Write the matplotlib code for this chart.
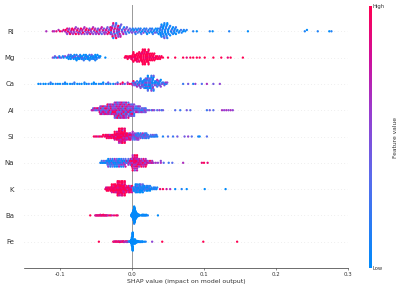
import numpy as np
import matplotlib
matplotlib.use("Agg")
import matplotlib.pyplot as plt
from matplotlib.colors import LinearSegmentedColormap

# Feature names (top to bottom)
features = ["RI", "Mg", "Ca", "Al", "Si", "Na", "K", "Ba", "Fe"]

# SHAP values in thousandths; feature value level 0 (low) .. 9 (high)
RI_shap = [-119, -110, -108, -105, -102, -100, -97, -95, -93,
           -92, -91, -90, -90, -89, -88, -87, -87, -86, -85, -84, -84,
           -83, -82, -81, -81, -80, -79, -78, -78, -77, -76, -75, -75,
           -74, -73, -72, -72, -71, -70, -69, -69, -68, -67, -66, -66,
           -65, -64, -63, -63, -62, -61, -60, -60, -59, -58, -57, -57,
           -56, -55, -54, -54, -53, -52, -51, -51, -50, -49, -48, -48,
           -47, -46, -45, -45, -44, -43, -42, -42, -41, -40, -39, -39,
           -38, -37, -36, -36,
           -35, -34, -34, -33, -32, -32, -31, -30, -30,
           -29, -29, -29, -28, -28, -28, -27, -27, -27, -26, -26, -26, -25, -25, -25, -24, -24, -24,
           -23, -23, -23, -22, -22, -22, -21, -21, -21, -20, -20, -20, -19, -19, -19, -18, -18, -18,
           -17, -17, -17, -16, -16, -16,
           -15, -14, -14, -13, -12, -12, -11, -10, -10, -9, -8, -8, -7, -6, -5, -4, -3,
           -2, -1, 0, 1, 2, 3, 4, 5, 5, 6, 7, 8, 9, 10, 11, 12, 12, 13, 14, 15, 16, 17, 18, 19, 20, 20,
           21, 22, 23, 24, 25, 26, 27, 28, 28, 29, 30, 31, 32, 33, 34, 35, 35, 36, 37, 38,
           39, 39, 39, 40, 40, 40, 41, 41, 41, 42, 42, 42, 43, 43, 43, 44, 44, 44, 45, 45, 45, 46, 46, 46,
           47, 47, 47, 48, 48, 48, 49, 49, 49, 50, 50, 50,
           51, 51, 52, 53, 53, 54, 55, 55, 56, 57, 57, 58, 59, 59, 60, 61, 61, 62,
           63, 65, 66, 68, 69, 71, 72, 74, 76,
           85, 90, 108, 112, 135, 161, 240, 243, 258, 274, 277]
RI_feat = [6, 7, 6, 8, 6, 9, 7, 8, 6,
           9, 6, 8, 5, 9, 5, 7, 6, 9, 5, 8, 6,
           9, 6, 5, 8, 6, 7, 9, 5, 6, 9, 5, 6,
           8, 9, 5, 4, 9, 6, 5, 7, 9, 6, 5, 6,
           5, 9, 6, 8, 4, 5, 9, 6, 4, 8, 5, 6,
           5, 9, 5, 6, 4, 8, 5, 6, 5, 9, 4, 6,
           4, 7, 5, 8, 4, 6, 3, 7, 5, 8, 5, 4,
           6, 5, 8, 5,
           6, 8, 4, 7, 5, 9, 3, 6, 8,
           5, 9, 2, 7, 4, 8, 6, 3, 9, 5, 1, 8, 7, 4, 6, 9, 2, 5,
           8, 3, 6, 4, 9, 1, 7, 5, 2, 8, 4, 6, 3, 9, 5, 2, 7, 4,
           6, 8, 1, 5, 3, 7,
           4, 6, 2, 5, 3, 7, 1, 4, 6, 2, 5, 3, 4, 2, 5, 1, 3,
           4, 2, 5, 1, 3, 0, 4, 2, 1, 5, 0, 3, 1, 2, 4, 0, 1, 3, 0, 2, 5, 1, 0, 3, 1, 2,
           0, 4, 1, 0, 2, 1, 3, 0, 1, 2, 0, 1, 4, 0, 1, 0, 2, 1, 0, 1,
           1, 0, 2, 0, 1, 0, 3, 1, 0, 0, 2, 1, 0, 1, 0, 2, 0, 1, 0, 4, 1, 0, 1, 0,
           2, 0, 1, 0, 1, 3, 0, 1, 0, 2, 0, 1,
           0, 1, 2, 0, 1, 0, 3, 1, 0, 1, 0, 2, 1, 0, 1, 0, 2, 1,
           0, 1, 0, 2, 1, 0, 1, 0, 1,
           1, 0, 1, 0, 1, 0, 1, 0, 1, 0, 1]

Mg_shap = [-110, -108, -107, -105, -103, -101, -100, -98, -96, -95, -93, -91, -90,
           -89, -88, -88, -87, -86, -85, -85, -84, -83, -82, -82, -81, -80, -79, -79, -78,
           -77, -77, -76, -75, -75, -74, -73, -73, -72, -71, -71, -70, -69, -69, -68, -67, -67, -66,
           -65, -65, -64, -63, -63, -62, -61, -61, -60, -59, -59, -58, -57, -57, -56, -55, -55, -54,
           -53, -53, -52, -51, -51, -50, -50,
           -49, -48, -47, -46, -45, -44, -37,
           -10, -9, -8, -7, -6, -5, -4, -3, -2, -1,
           0, 0, 0, 1, 1, 2, 2, 2, 3, 3, 4, 4, 4, 5, 5, 6, 6, 6, 7, 7, 8, 8, 8, 9, 9, 10, 10, 10, 11, 11,
           12, 12, 12, 12, 13, 13, 13, 13, 14, 14, 14, 14, 15, 15, 15, 15, 16, 16, 16, 16,
           17, 17, 17, 17, 18, 18, 18, 18, 19, 19, 19, 19, 20, 20, 20, 20, 21, 21, 21, 21,
           22, 22, 22, 22, 23, 23, 23, 23, 24, 24, 24, 24,
           25, 25, 26, 26, 27, 27, 28, 28, 29, 29, 30, 30, 31, 31, 32, 33, 33, 34, 35,
           36, 37, 38, 39, 40, 41, 43,
           50, 60, 71, 76, 81, 85, 90, 94, 101, 113, 124, 133, 137, 154]
Mg_feat = [5, 1, 4, 0, 6, 1, 0, 4, 1, 0, 5, 1, 0,
           1, 0, 4, 1, 0, 0, 2, 1, 0, 5, 1, 0, 0, 1, 4, 0,
           1, 0, 0, 2, 1, 0, 4, 0, 1, 0, 0, 1, 5, 0, 1, 0, 2, 0,
           1, 0, 0, 4, 1, 0, 1, 0, 0, 2, 1, 0, 0, 1, 4, 0, 1, 0,
           0, 1, 2, 0, 1, 0, 0,
           1, 0, 2, 0, 1, 0, 0,
           9, 9, 8, 9, 9, 9, 9, 8, 9, 9,
           9, 9, 8, 9, 9, 9, 9, 9, 8, 9, 9, 9, 9, 8, 9, 9, 9, 9, 9, 8, 9, 9, 9, 9, 8, 9, 9, 9, 9, 9,
           9, 9, 9, 8, 9, 9, 9, 9, 9, 8, 9, 9, 9, 9, 9, 9, 8, 9, 9, 9,
           9, 9, 9, 8, 9, 9, 9, 9, 9, 9, 8, 9, 9, 9, 9, 9, 8, 9, 9, 9,
           9, 9, 9, 8, 9, 9, 9, 9, 9, 8, 9, 9,
           9, 9, 8, 9, 9, 9, 9, 9, 8, 9, 9, 9, 9, 9, 8, 9, 9, 9, 9,
           9, 9, 8, 9, 9, 9, 9,
           9, 9, 9, 8, 9, 9, 9, 9, 9, 9, 9, 8, 9, 9]

Ca_shap = [-130, -127, -123, -120, -116, -113, -113, -110, -106, -103,
           -100, -96, -93, -93, -90, -86, -83, -80, -80, -76,
           -73, -70, -66, -66, -63, -60, -56, -53, -53, -50,
           -46, -43, -40, -40, -36, -33, -33, -30, -26, -23,
           -20, -20, -16, -13, -13, -10, -6, -6, -3,
           0, 1, 1, 2, 3, 3, 4, 5, 5, 6, 7, 7, 8, 9, 9,
           10, 10, 10, 11, 11, 12, 12, 12, 13, 13, 14, 14, 14, 15, 15, 16, 16, 16, 17, 17,
           18, 18, 18, 18, 19, 19, 19, 19, 20, 20, 20, 20, 21, 21, 21, 21, 22, 22, 22, 22, 23, 23, 23, 23,
           24, 24, 24, 24,
           25, 25, 25, 25, 26, 26, 26, 26, 27, 27, 27, 27, 28, 28, 28, 28, 29, 29, 29, 29, 30, 30, 30, 30,
           31, 31, 32, 32, 33, 33, 34, 34, 35, 35, 36, 36, 37, 37, 38, 38, 39, 39, 40, 40,
           41, 42, 43, 44, 45, 46, 47, 48, 49,
           71, 78, 85, 88, 97, 104, 113, 122]
Ca_feat = [0, 1, 0, 0, 1, 0, 2, 0, 1, 0,
           0, 1, 0, 1, 0, 0, 1, 0, 2, 0,
           1, 0, 0, 1, 0, 2, 0, 1, 0, 0,
           1, 0, 2, 0, 1, 0, 4, 1, 0, 4,
           7, 2, 8, 5, 9, 3, 8, 6, 9,
           8, 2, 6, 9, 1, 5, 3, 7, 1, 4, 2, 6, 0, 5, 1,
           3, 1, 6, 0, 4, 2, 5, 1, 0, 3, 6, 1, 2, 4, 0, 5, 1, 3, 0, 2,
           1, 4, 0, 2, 5, 1, 0, 3, 1, 6, 0, 2, 4, 1, 0, 5, 2, 1, 3, 0, 1, 4, 0, 2,
           6, 1, 0, 3,
           1, 5, 0, 2, 1, 4, 0, 3, 1, 0, 5, 2, 1, 0, 4, 1, 2, 0, 6, 1, 3, 0, 1, 4,
           2, 0, 5, 1, 3, 0, 4, 1, 2, 6, 0, 1, 3, 5, 0, 2, 4, 1, 5, 0,
           3, 1, 5, 2, 4, 0, 6, 2, 5,
           2, 4, 1, 5, 3, 6, 4, 5]

Al_shap = [-56, -55, -54, -53, -52, -51, -50, -49, -48, -47, -46,
           -45, -45, -45, -44, -44, -43, -43, -43, -42, -42, -41, -41, -41, -40, -40,
           -39, -39, -39, -38, -38, -37, -37, -37, -36, -36,
           -35, -35, -35, -34, -34, -34, -33, -33, -33, -32, -32, -32, -31, -31, -31,
           -30, -30, -30, -29, -29, -29, -28, -28, -28, -27, -27, -27, -26, -26, -26,
           -25, -25, -25, -25, -24, -24, -24, -24, -24, -23, -23, -23, -23, -22, -22, -22, -22, -22,
           -21, -21, -21, -21, -20, -20, -20, -20, -20, -19, -19, -19, -19, -18, -18, -18, -18, -18,
           -17, -17, -17, -17, -16, -16, -16, -16, -16, -15, -15, -15, -15, -14, -14, -14, -14, -14,
           -13, -13, -13, -13, -12, -12, -12, -12, -12, -11, -11, -11, -11, -10, -10, -10, -10, -10,
           -9, -9, -9, -9, -8, -8, -8, -8, -8, -7, -7, -7, -7, -6, -6, -6, -6, -6,
           -5, -5, -5, -5,
           -4, -4, -4, -4, -3, -3, -3, -2, -2, -2, -2, -1, -1, -1,
           0, 0, 0, 0, 1, 1, 1, 2, 2, 2, 2, 3, 3, 3,
           4, 4, 5, 5, 6, 6, 7, 7, 8, 8, 9, 9, 10, 10,
           11, 11, 12, 13, 13, 14, 15, 15, 16, 17, 17, 18, 19, 19, 20,
           22, 24, 27, 29, 31, 35, 38, 41, 43,
           60, 67, 76, 81, 104, 108, 113, 125, 128, 131, 134, 137, 140]
Al_feat = [5, 7, 3, 6, 8, 4, 6, 2, 9, 5, 7,
           6, 3, 8, 5, 7, 2, 9, 4, 6, 8, 5, 3, 7, 9, 4,
           6, 2, 8, 5, 7, 3, 9, 6, 4, 8,
           5, 8, 3, 7, 6, 9, 4, 6, 8, 2, 7, 5, 9, 3, 6,
           8, 4, 7, 5, 9, 2, 6, 8, 4, 7, 3, 9, 5, 6, 8,
           7, 4, 9, 5, 6, 2, 8, 5, 3, 7, 6, 9, 4, 8, 5, 2, 7, 6,
           9, 3, 5, 8, 4, 6, 7, 2, 9, 5, 8, 3, 6, 7, 4, 9, 5, 2,
           8, 6, 3, 7, 5, 9, 4, 6, 8, 2, 7, 5, 3, 9, 6, 4, 8, 5,
           7, 2, 6, 9, 3, 5, 8, 4, 7, 6, 2, 9, 5, 3, 8, 6, 4, 7,
           5, 9, 2, 6, 8, 3, 5, 7, 4, 9, 6, 2, 8, 5, 3, 7, 6, 4,
           9, 5, 2, 8,
           6, 3, 8, 5, 2, 7, 4, 9, 5, 1, 6, 8, 3, 5,
           7, 2, 4, 6, 9, 3, 5, 2, 7, 4, 6, 1, 5, 3,
           4, 2, 6, 3, 5, 1, 7, 3, 4, 2, 5, 6, 3, 2,
           3, 5, 2, 4, 6, 1, 3, 5, 2, 4, 3, 6, 2, 5, 4,
           3, 5, 2, 6, 4, 3, 5, 2, 4,
           3, 2, 4, 3, 2, 4, 3, 6, 5, 6, 5, 6, 5]

Si_shap = [-53, -51, -49, -47, -45, -43, -41, -40, -38, -37,
           -36, -35, -35, -34, -33, -33, -32, -31, -31, -30, -29, -29, -28, -27, -27, -26,
           -25, -25, -25, -24, -24, -24, -23, -23, -23, -22, -22, -22, -21, -21, -21, -20, -20, -20,
           -19, -19, -19, -19, -19, -18, -18, -18, -18, -18, -17, -17, -17, -17, -17,
           -16, -16, -16, -16, -16, -15, -15, -15, -15, -15, -14, -14, -14, -14, -14,
           -13, -13, -13, -13, -13, -12, -12, -12, -12, -12, -11, -11, -11, -11, -11,
           -10, -10, -10, -10, -10, -9, -9, -9, -9, -9,
           -8, -8, -8, -7, -7, -6, -6, -6, -5, -5, -4, -4, -4, -3, -3, -2, -2, -2, -1, -1, 0, 0, 0,
           1, 1, 1, 2, 2, 3, 3, 3, 4, 4, 5, 5, 5, 6, 6, 7, 7, 7, 8, 8, 9, 9, 9, 10, 10,
           11, 11, 12, 12, 13, 13, 14, 14, 15, 15, 16, 16, 17, 17, 18, 18, 19, 19, 20, 20, 21, 21, 22, 22,
           23, 24, 25, 26, 27, 28, 29, 30, 31, 32, 33, 34, 35,
           43, 50, 57, 63, 73, 78, 83, 92, 94, 104]
Si_feat = [9, 8, 9, 7, 9, 8, 9, 9, 8, 9,
           9, 8, 9, 7, 9, 9, 8, 9, 6, 9, 8, 9, 9, 7, 9, 8,
           9, 8, 9, 9, 7, 9, 8, 9, 9, 6, 9, 8, 9, 9, 7, 9, 8, 9,
           9, 8, 9, 9, 7, 9, 8, 9, 6, 9, 8, 9, 9, 7, 9,
           9, 8, 9, 9, 6, 9, 8, 9, 7, 9, 9, 8, 9, 9, 7,
           9, 8, 6, 9, 9, 8, 9, 7, 9, 9, 8, 9, 6, 9, 8,
           9, 7, 9, 9, 8, 9, 6, 9, 8, 7,
           8, 9, 6, 9, 7, 8, 9, 5, 8, 7, 9, 6, 8, 5, 9, 7, 6, 8, 5, 9, 6, 7, 5,
           5, 3, 6, 2, 5, 4, 6, 1, 5, 3, 6, 2, 4, 5, 1, 6, 3, 5, 2, 4, 6, 1, 5, 3, 2,
           4, 2, 5, 1, 3, 5, 2, 4, 1, 6, 3, 2, 5, 1, 4, 2, 3, 5, 1, 2, 4, 1, 3, 2,
           2, 4, 1, 3, 2, 1, 4, 2, 1, 3, 1, 2, 1,
           1, 3, 2, 4, 4, 5, 3, 1, 0, 3]

Na_shap = [-44, -43, -42, -41, -40, -39, -38, -37, -36,
           -35, -35, -34, -34, -34, -33, -33, -32, -32, -32, -31, -31, -30, -30, -30,
           -29, -29, -28, -28, -28, -27, -27, -26, -26, -26, -25, -25, -24, -24, -24,
           -23, -23, -22, -22, -22, -21, -21, -20, -20, -20, -19, -19, -18, -18, -18,
           -17, -17, -16, -16, -16, -15, -15, -14, -14, -14, -13, -13, -12, -12, -12,
           -11, -11, -10, -10, -10,
           -9, -9, -8, -8, -7, -7, -6, -6, -5, -5, -4, -4, -3, -3, -2, -2,
           -1, -1, -1, -1, 0, 0, 0, 0, 0, 1, 1, 1, 1, 2, 2, 2, 2, 2, 3, 3, 3, 3,
           4, 4, 4, 4, 4, 5, 5, 5, 5, 6, 6, 6, 6, 6, 7, 7, 7, 7, 8, 8, 8, 8, 8,
           9, 9, 10, 10, 10, 11, 11, 12, 12, 12, 13, 13, 14, 14, 14,
           15, 15, 16, 16, 16, 17, 17, 18, 18, 18, 19, 19, 20, 20, 20,
           21, 22, 23, 24, 25, 26, 27, 28, 29, 30,
           33, 36, 40, 40, 44, 51, 56, 71, 97, 100, 105]
Na_feat = [1, 0, 2, 1, 0, 4, 1, 0, 2,
           1, 0, 4, 1, 2, 0, 5, 1, 0, 3, 1, 0, 2, 4, 1,
           0, 1, 5, 0, 2, 1, 3, 0, 1, 4, 0, 2, 1, 6, 0,
           1, 2, 0, 4, 1, 3, 0, 5, 1, 2, 0, 1, 4, 0, 6,
           1, 2, 0, 3, 5, 1, 0, 4, 2, 6, 1, 0, 5, 3, 1,
           7, 2, 4, 0, 6,
           3, 7, 1, 5, 2, 8, 4, 1, 6, 3, 7, 2, 5, 8, 1, 6,
           7, 9, 5, 8, 6, 9, 8, 4, 9, 7, 8, 6, 9, 5, 8, 9, 7, 6, 9, 8, 5, 9,
           7, 8, 6, 9, 4, 8, 9, 7, 6, 8, 9, 5, 7, 9, 8, 6, 9, 7, 5, 8, 9, 6, 8,
           8, 6, 9, 7, 5, 8, 9, 6, 7, 8, 5, 9, 6, 8, 7,
           9, 5, 6, 8, 7, 9, 6, 5, 8, 7, 6, 9, 5, 7, 8,
           7, 5, 8, 6, 9, 5, 7, 6, 8, 5,
           6, 5, 6, 5, 3, 2, 3, 6, 8, 9, 8]

K_shap = [-37, -36, -36, -35, -34, -34, -33, -32, -32, -31, -30, -30,
          -29, -29, -29, -28, -28, -28, -27, -27, -27, -26, -26, -26,
          -25, -25, -25, -24, -24, -24, -23, -23, -23, -22, -22, -22,
          -21, -21, -21, -21, -21, -20, -20, -20, -20, -20, -19, -19, -19, -19, -19,
          -18, -18, -18, -18, -18, -17, -17, -17, -17, -17, -16, -16, -16, -16, -16,
          -15, -15, -15, -15, -15, -14, -14, -14, -14, -14, -13, -13, -13, -13, -13,
          -12, -12, -12, -12, -12, -11, -11, -11, -11, -11, -10, -10, -10, -10, -10,
          -9, -9, -9, -8, -8, -7, -7, -7, -6, -6, -5, -5, -5, -4, -4, -3, -3, -3, -2, -2,
          -1, -1, -1, 0, 0,
          2, 2, 2, 3, 3, 3, 4, 4, 4, 5, 5, 5, 6, 6, 6, 7, 7, 7, 8, 8, 8,
          9, 9, 9, 10, 10, 10, 11, 11, 11, 12, 12, 12, 13, 13, 13, 14, 14, 14, 15, 15, 15,
          16, 16, 17, 17, 18, 18, 19, 19, 20, 20, 21, 21, 22, 22, 23, 23, 24, 24, 25, 25,
          26, 27, 28, 29, 30, 31, 32, 33, 34, 35,
          39, 43, 48, 53, 60, 69, 76, 101, 130]
K_feat = [8, 9, 7, 9, 9, 8, 9, 7, 9, 9, 8, 9,
          9, 8, 9, 9, 7, 9, 8, 9, 9, 9, 8, 9,
          7, 9, 9, 8, 9, 9, 9, 7, 9, 8, 9, 9,
          9, 8, 9, 9, 7, 9, 9, 8, 9, 9, 9, 7, 9, 8, 9,
          9, 9, 8, 7, 9, 8, 9, 9, 9, 7, 9, 8, 9, 9, 9,
          9, 8, 9, 7, 9, 9, 8, 9, 9, 9, 7, 9, 9, 8, 9,
          9, 9, 7, 9, 8, 9, 9, 8, 9, 7, 9, 9, 8, 9, 9,
          9, 8, 9, 7, 9, 9, 8, 9, 6, 9, 8, 9, 7, 9, 9, 8, 5, 9, 8, 7,
          9, 6, 8, 9, 7,
          1, 0, 2, 0, 1, 0, 0, 3, 1, 0, 1, 0, 2, 0, 1, 4, 0, 1, 0, 2, 0,
          1, 0, 3, 1, 0, 0, 1, 2, 0, 1, 0, 4, 0, 1, 0, 2, 1, 0, 1, 0, 3,
          0, 1, 2, 0, 1, 0, 3, 1, 0, 2, 1, 0, 0, 1, 4, 0, 1, 2, 0, 1,
          0, 1, 0, 2, 1, 0, 1, 3, 0, 1,
          8, 9, 7, 6, 0, 1, 0, 0, 0]

Ba_shap = [-58, -51, -50, -49, -48, -47, -46, -45, -44, -44, -43, -42, -41, -40,
           -40, -39, -38, -37, -36, -35, -34, -32, -30, -28, -25, -22, -20,
           -1, -1, -1, 0, 0, 0, 0, 0, 0,
           1, 1, 1, 1, 1, 1, 1, 1, 1, 1,
           2, 2, 2, 2, 2, 2, 2, 2, 2, 2, 2, 2, 2, 2, 2, 2, 2, 2,
           3, 3, 3, 3, 3, 3, 3, 3, 3, 3, 3, 3, 3, 3, 3, 3, 3, 3, 3, 3, 3, 3, 3, 3, 3, 3, 3, 3, 3, 3,
           4, 4, 4, 4, 4, 4, 4, 4, 4, 4, 4, 4, 4, 4, 4, 4, 4, 4, 4, 4, 4, 4, 4, 4,
           5, 5, 5, 5, 5, 5, 5, 5, 5, 5, 5, 5, 5, 5,
           6, 6, 6, 6, 6, 6, 6, 6, 6,
           7, 7, 7, 7, 7, 7, 8, 8, 8, 8, 9, 9, 9, 10, 10, 11,
           13, 14, 14, 15, 15, 16, 16, 17, 18, 18, 19, 20, 20, 22, 36]
Ba_feat = [9, 8, 6, 9, 7, 8, 9, 6, 9, 8, 7, 9, 8, 6,
           9, 8, 9, 7, 8, 9, 6, 8, 9, 7, 8, 9, 8,
           0, 1, 0, 0, 0, 1, 0, 0, 0,
           0, 0, 1, 0, 0, 0, 0, 1, 0, 0,
           0, 0, 0, 1, 0, 0, 0, 0, 0, 0, 1, 0, 0, 0, 0, 0, 1, 0,
           0, 0, 0, 0, 1, 0, 0, 0, 0, 0, 0, 0, 1, 0, 0, 0, 0, 0, 0, 0, 0, 1, 0, 0, 0, 0, 0, 0, 1, 0,
           0, 0, 0, 1, 0, 0, 0, 0, 0, 0, 0, 1, 0, 0, 0, 0, 0, 0, 1, 0, 0, 0, 0, 0,
           0, 0, 1, 0, 0, 0, 0, 0, 1, 0, 0, 0, 0, 0,
           0, 1, 0, 0, 0, 0, 1, 0, 0,
           0, 0, 1, 0, 0, 0, 0, 1, 0, 0, 0, 1, 0, 0, 0, 0,
           0, 1, 0, 0, 1, 0, 0, 1, 0, 0, 1, 0, 0, 1, 0]

Fe_shap = [-46, -26, -25, -24, -23, -22, -21, -20, -19, -18, -17, -17, -16, -15,
           -14, -13, -12, -12, -11, -10, -9, -8, -7, -7, -6, -5, -4, -3,
           -2, -2, -2, -2, -1, -1, -1, -1, -1, -1, -1, -1,
           0, 0, 0, 0, 0, 0, 0, 0, 0, 0, 0, 0, 0, 0, 0, 0, 0, 0, 0, 0, 0, 0, 0, 0, 0, 0, 0, 0,
           1, 1, 1, 1, 1, 1, 1, 1, 1, 1, 1, 1, 1, 1, 1, 1, 1, 1, 1, 1, 1, 1, 1, 1, 1, 1, 1, 1,
           2, 2, 2, 2, 2, 2, 2, 2, 2, 2, 2, 2, 2, 2,
           3, 3, 3, 3, 3, 3, 3, 3, 4, 4, 4, 4, 4, 4, 5, 5, 5, 5, 6, 6, 6,
           7, 7, 8, 8, 9, 9, 10, 11, 11, 12, 13, 14, 14, 15, 17, 19,
           28, 42, 99, 146]
Fe_feat = [9, 9, 8, 6, 9, 8, 9, 7, 8, 9, 5, 9, 8, 7,
           9, 6, 8, 9, 7, 5, 8, 6, 9, 4, 7, 2, 1, 0,
           0, 1, 0, 0, 0, 0, 1, 0, 0, 0, 0, 0,
           0, 0, 0, 1, 0, 0, 0, 0, 0, 0, 0, 0, 1, 0, 0, 0, 0, 0, 0, 0, 0, 0, 1, 0, 0, 0, 0, 0,
           0, 0, 0, 0, 0, 1, 0, 0, 0, 0, 0, 0, 0, 0, 0, 1, 0, 0, 0, 0, 0, 0, 0, 0, 0, 1, 0, 0,
           0, 0, 1, 0, 0, 0, 0, 0, 0, 2, 0, 0, 0, 0,
           0, 0, 0, 1, 0, 0, 0, 0, 0, 0, 1, 0, 0, 0, 0, 1, 0, 0, 0, 0, 0,
           1, 0, 0, 0, 1, 0, 0, 0, 1, 0, 0, 0, 1, 0, 0, 1,
           5, 9, 9, 9]

shap_rows = [RI_shap, Mg_shap, Ca_shap, Al_shap, Si_shap, Na_shap, K_shap, Ba_shap, Fe_shap]
feat_rows = [RI_feat, Mg_feat, Ca_feat, Al_feat, Si_feat, Na_feat, K_feat, Ba_feat, Fe_feat]

xticks = [-0.1, 0.0, 0.1, 0.2, 0.3]

for name, a, b in zip(features, shap_rows, feat_rows):
    if len(a) != len(b):
        raise ValueError(f"{name}: {len(a)} shap vs {len(b)} feat")

red_blue = LinearSegmentedColormap.from_list(
    "red_blue",
    [(0.0, "#008bfb"), (0.35, "#5b6bec"), (0.6, "#9a3ccf"), (0.8, "#cf0f9c"), (1.0, "#ff0052")])


def swarm_offsets(vals, row_height=0.4, nbins=100):
    vals = np.asarray(vals, float)
    n = len(vals)
    quant = np.round(nbins * (vals - vals.min()) / (vals.max() - vals.min() + 1e-8))
    inds = np.argsort(quant, kind="stable")
    layer = 0
    last_bin = -1
    ys = np.zeros(n)
    for ind in inds:
        if quant[ind] != last_bin:
            layer = 0
        ys[ind] = np.ceil(layer / 2) * ((layer % 2) * 2 - 1)
        layer += 1
        last_bin = quant[ind]
    ys *= 0.9 * (row_height / np.max(ys + 1))
    return ys


W, H = 399, 289
fig = plt.figure(figsize=(W / 100, H / 100), dpi=100)
ax = fig.add_axes([24 / W, (H - 268) / H, (348 - 24) / W, (268 - 5) / H])

n = len(features)
for i, (name, sv, fv) in enumerate(zip(features, shap_rows, feat_rows)):
    pos = n - 1 - i
    ax.axhline(pos, color="#cccccc", lw=0.4, dashes=(1, 5), zorder=-1)
    vals = np.array(sv) / 1000.0
    ys = swarm_offsets(vals)
    cols = red_blue(np.array(fv) / 9.0)
    ax.scatter(vals, pos + ys, s=2.8, c=cols, linewidths=0, zorder=3)

ax.axvline(0, color="#999999", lw=0.7, zorder=-1)

ax.set_xlim(-0.15, 0.3)
ax.set_ylim(-1, n)
ax.set_yticks(range(n))
ax.set_yticklabels(features[::-1], fontsize=5.0, color="#333333")
ax.tick_params(axis="y", length=0, pad=7)
ax.set_xticks(xticks)
ax.set_xticklabels([f"{t:.1f}" for t in xticks])
ax.tick_params(axis="x", labelsize=3.9, length=1.5, width=0.4, pad=1.5, color="#333333", labelcolor="#333333")
for s in ["left", "right", "top"]:
    ax.spines[s].set_visible(False)
ax.spines["bottom"].set_linewidth(0.5)
ax.spines["bottom"].set_color("#333333")
ax.set_xlabel("SHAP value (impact on model output)", fontsize=4.5, labelpad=1.5, color="#333333")

# colorbar
cax = fig.add_axes([369 / W, (H - 268) / H, 2.4 / W, 262 / H])
grad = np.linspace(0, 1, 256).reshape(-1, 1)
cax.imshow(grad, aspect="auto", cmap=red_blue, origin="lower", extent=[0, 1, 0, 1])
cax.set_xticks([])
cax.yaxis.tick_right()
cax.set_yticks([0, 1])
cax.set_yticklabels(["Low", "High"])
cax.tick_params(axis="y", length=0, labelsize=3.8, pad=1, labelcolor="#333333")
for s in cax.spines.values():
    s.set_visible(False)
cax.yaxis.set_label_position("right")
cax.set_ylabel("Feature value", fontsize=4.3, labelpad=6, color="#333333")

fig.savefig("out.png", dpi=100)
